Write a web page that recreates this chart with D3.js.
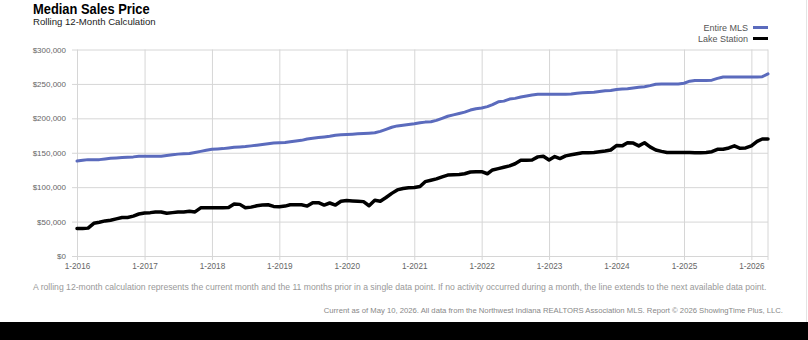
<!DOCTYPE html>
<html>
<head>
<meta charset="utf-8">
<script src="https://cdn.jsdelivr.net/npm/d3@7"></script>
<style>
  body { margin: 0; background: #fff; }
  svg { display: block; font-family: "Liberation Sans Narrow", "Arial Narrow", "Liberation Sans", sans-serif; }
</style>
</head>
<body>
<svg id="chart"></svg>
<script>
// monthly values, Jan 2016 .. Apr 2026
const startMonth = "2016-01";
const seriesNames = ["Entire MLS", "Lake Station"];
const seriesColors = ["#5b6bbd", "#000000"];

const entireMLS = [
  138000, 139000, 140000, 140000, 140000, 141000, 142000, 142500, 143000, 143500, 144000, 145000,
  145000, 145000, 145000, 145000, 146000, 147000, 148000, 148500, 149000, 150500, 152000, 153500,
  155000, 155500, 156000, 157000, 158000, 158500, 159000, 160000, 161000, 162000, 163000, 164000,
  164500, 165000, 166000, 167000, 168000, 170000, 171000, 172000, 173000, 174000, 175500, 176000,
  176500, 177000, 177500, 178000, 178500, 179000, 181000, 184000, 187000, 189000, 190000, 191000,
  192000, 193500, 194500, 195000, 197000, 200000, 203000, 205000, 207000, 209000, 212000, 214000,
  215000, 217000, 220000, 224000, 225000, 228000, 229000, 231000, 232500, 234000, 235000, 235000,
  235000, 235000, 235000, 235000, 235500, 236500, 237000, 237500, 238000, 239000, 240000, 240500,
  242000, 242500, 243000, 244000, 245000, 246000, 247500, 249500, 250000, 250000, 250000, 250000,
  251000, 254000, 255000, 255000, 255000, 255500, 258000, 260000, 260000, 260000, 260000, 260000,
  260000, 260000, 260500, 264500
];

const lakeStation = [
  40000, 40000, 40500, 47500, 49000, 51000, 52000, 54000, 56000, 56000, 58000, 61000,
  62500, 63000, 64000, 64000, 62000, 63000, 64000, 64000, 65000, 64000, 70000, 70000,
  70000, 70000, 70000, 70500, 75500, 75000, 70000, 71000, 73000, 74000, 74500, 72000,
  71500, 72500, 74500, 74500, 74500, 72500, 77500, 77500, 74000, 77000, 74000, 79500,
  80500, 80000, 79500, 79000, 73000, 81000, 79500, 85000, 91000, 96000, 98000, 99000,
  99500, 101000, 108000, 110000, 112000, 115000, 117500, 118000, 118500, 119500, 122000, 122500,
  122500, 119500, 125000, 127000, 129000, 131000, 134000, 139000, 139000, 139500, 144000, 145000,
  139500, 144500, 141500, 145500, 147000, 148500, 150000, 150000, 150500, 151500, 152500, 154000,
  160500, 160000, 164500, 164000, 160000, 164500, 158500, 154000, 152000, 150500, 150500, 150500,
  150500, 150500, 150000, 150000, 150500, 151500, 155000, 155000, 157000, 160000, 156500, 157000,
  160000, 166500, 170000, 170000
];

const yTicks = [0, 50000, 100000, 150000, 200000, 250000, 300000];
const xTickYears = [2016, 2017, 2018, 2019, 2020, 2021, 2022, 2023, 2024, 2025, 2026];

const titleText = "Median Sales Price";
const subtitleText = "Rolling 12-Month Calculation";
const noteText = "A rolling 12-month calculation represents the current month and the 11 months prior in a single data point. If no activity occurred during a month, the line extends to the next available data point.";
const sourceText = "Current as of May 10, 2026. All data from the Northwest Indiana REALTORS Association MLS. Report \u00a9 2026 ShowingTime Plus, LLC.";

const width = 808, height = 340;
const plot = {left: 77, right: 768, top: 49.5, bottom: 256};

const parseMonth = d3.timeParse("%Y-%m");
const start = parseMonth(startMonth);
const dates = entireMLS.map((_, i) => d3.timeMonth.offset(start, i));

const svg = d3.select("#chart").attr("width", width).attr("height", height);

const x = d3.scaleTime()
  .domain([dates[0], dates[dates.length - 1]])
  .range([plot.left, plot.right]);
const y = d3.scaleLinear()
  .domain([0, 300000])
  .range([plot.bottom, plot.top]);

const gridColor = "#d6d6d6";

// horizontal grid + y labels
const yAxis = svg.append("g")
  .attr("transform", `translate(${plot.left},0)`)
  .call(d3.axisLeft(y).tickValues(yTicks).tickSize(-(plot.right - plot.left)).tickSizeOuter(0)
    .tickFormat(d => "$" + d3.format(",")(d)));
yAxis.select(".domain").remove();
yAxis.selectAll(".tick line").attr("stroke", gridColor).attr("x1", -5);
yAxis.selectAll(".tick text").attr("fill", "#666").attr("font-size", 8).attr("x", -11);

// vertical grid + x labels
const xAxis = svg.append("g")
  .attr("transform", `translate(0,${plot.bottom})`)
  .call(d3.axisBottom(x).tickValues(xTickYears.map(yr => new Date(yr, 0, 1)))
    .tickSize(4).tickPadding(3).tickFormat(d => "1-" + d.getFullYear()));
xAxis.select(".domain").remove();
xAxis.selectAll(".tick line").attr("stroke", gridColor)
  .attr("y1", -(plot.bottom - plot.top));
xAxis.selectAll(".tick text").attr("fill", "#666").attr("font-size", 8.2);

// right edge of plot
svg.append("line")
  .attr("x1", plot.right).attr("x2", plot.right)
  .attr("y1", plot.top).attr("y2", plot.bottom + 4)
  .attr("stroke", gridColor);

// lines
const line = d3.line()
  .x((d, i) => x(dates[i]))
  .y(d => y(d));

[entireMLS, lakeStation].forEach((vals, k) => {
  svg.append("path")
    .datum(vals)
    .attr("fill", "none")
    .attr("stroke", seriesColors[k])
    .attr("stroke-width", k === 0 ? 3 : 3.5)
    .attr("stroke-linejoin", "round")
    .attr("stroke-linecap", "round")
    .attr("d", line);
});

// titles (title squeezed a bit to look like the condensed face)
svg.append("text")
  .attr("transform", "translate(33,13.5) scale(0.86,1)")
  .attr("font-size", 15).attr("font-weight", "bold").attr("fill", "#000")
  .text(titleText);
svg.append("text").attr("x", 33).attr("y", 25)
  .attr("font-size", 9.6).attr("fill", "#222")
  .text(subtitleText);

// legend
const legend = svg.append("g").attr("transform", "translate(748,0)");
seriesNames.forEach((name, k) => {
  const ly = 27.5 + k * 11;
  legend.append("text").attr("x", 0).attr("y", ly + 3)
    .attr("text-anchor", "end").attr("font-size", 9).attr("fill", "#555")
    .text(name);
  legend.append("line").attr("x1", 5).attr("x2", 20).attr("y1", ly).attr("y2", ly)
    .attr("stroke", seriesColors[k]).attr("stroke-width", 3);
});

// footer
svg.append("text").attr("x", 33).attr("y", 290)
  .attr("font-size", 8.65).attr("fill", "#999")
  .text(noteText);
svg.append("text").attr("x", 783).attr("y", 313)
  .attr("text-anchor", "end").attr("font-size", 7.7).attr("fill", "#888")
  .text(sourceText);

// frame pieces
svg.append("line").attr("x1", 806.5).attr("x2", 806.5).attr("y1", 0).attr("y2", 322)
  .attr("stroke", "#e4e4e4");
svg.append("rect").attr("x", 0).attr("y", 322).attr("width", width).attr("height", height - 322)
  .attr("fill", "#000");
</script>
</body>
</html>
